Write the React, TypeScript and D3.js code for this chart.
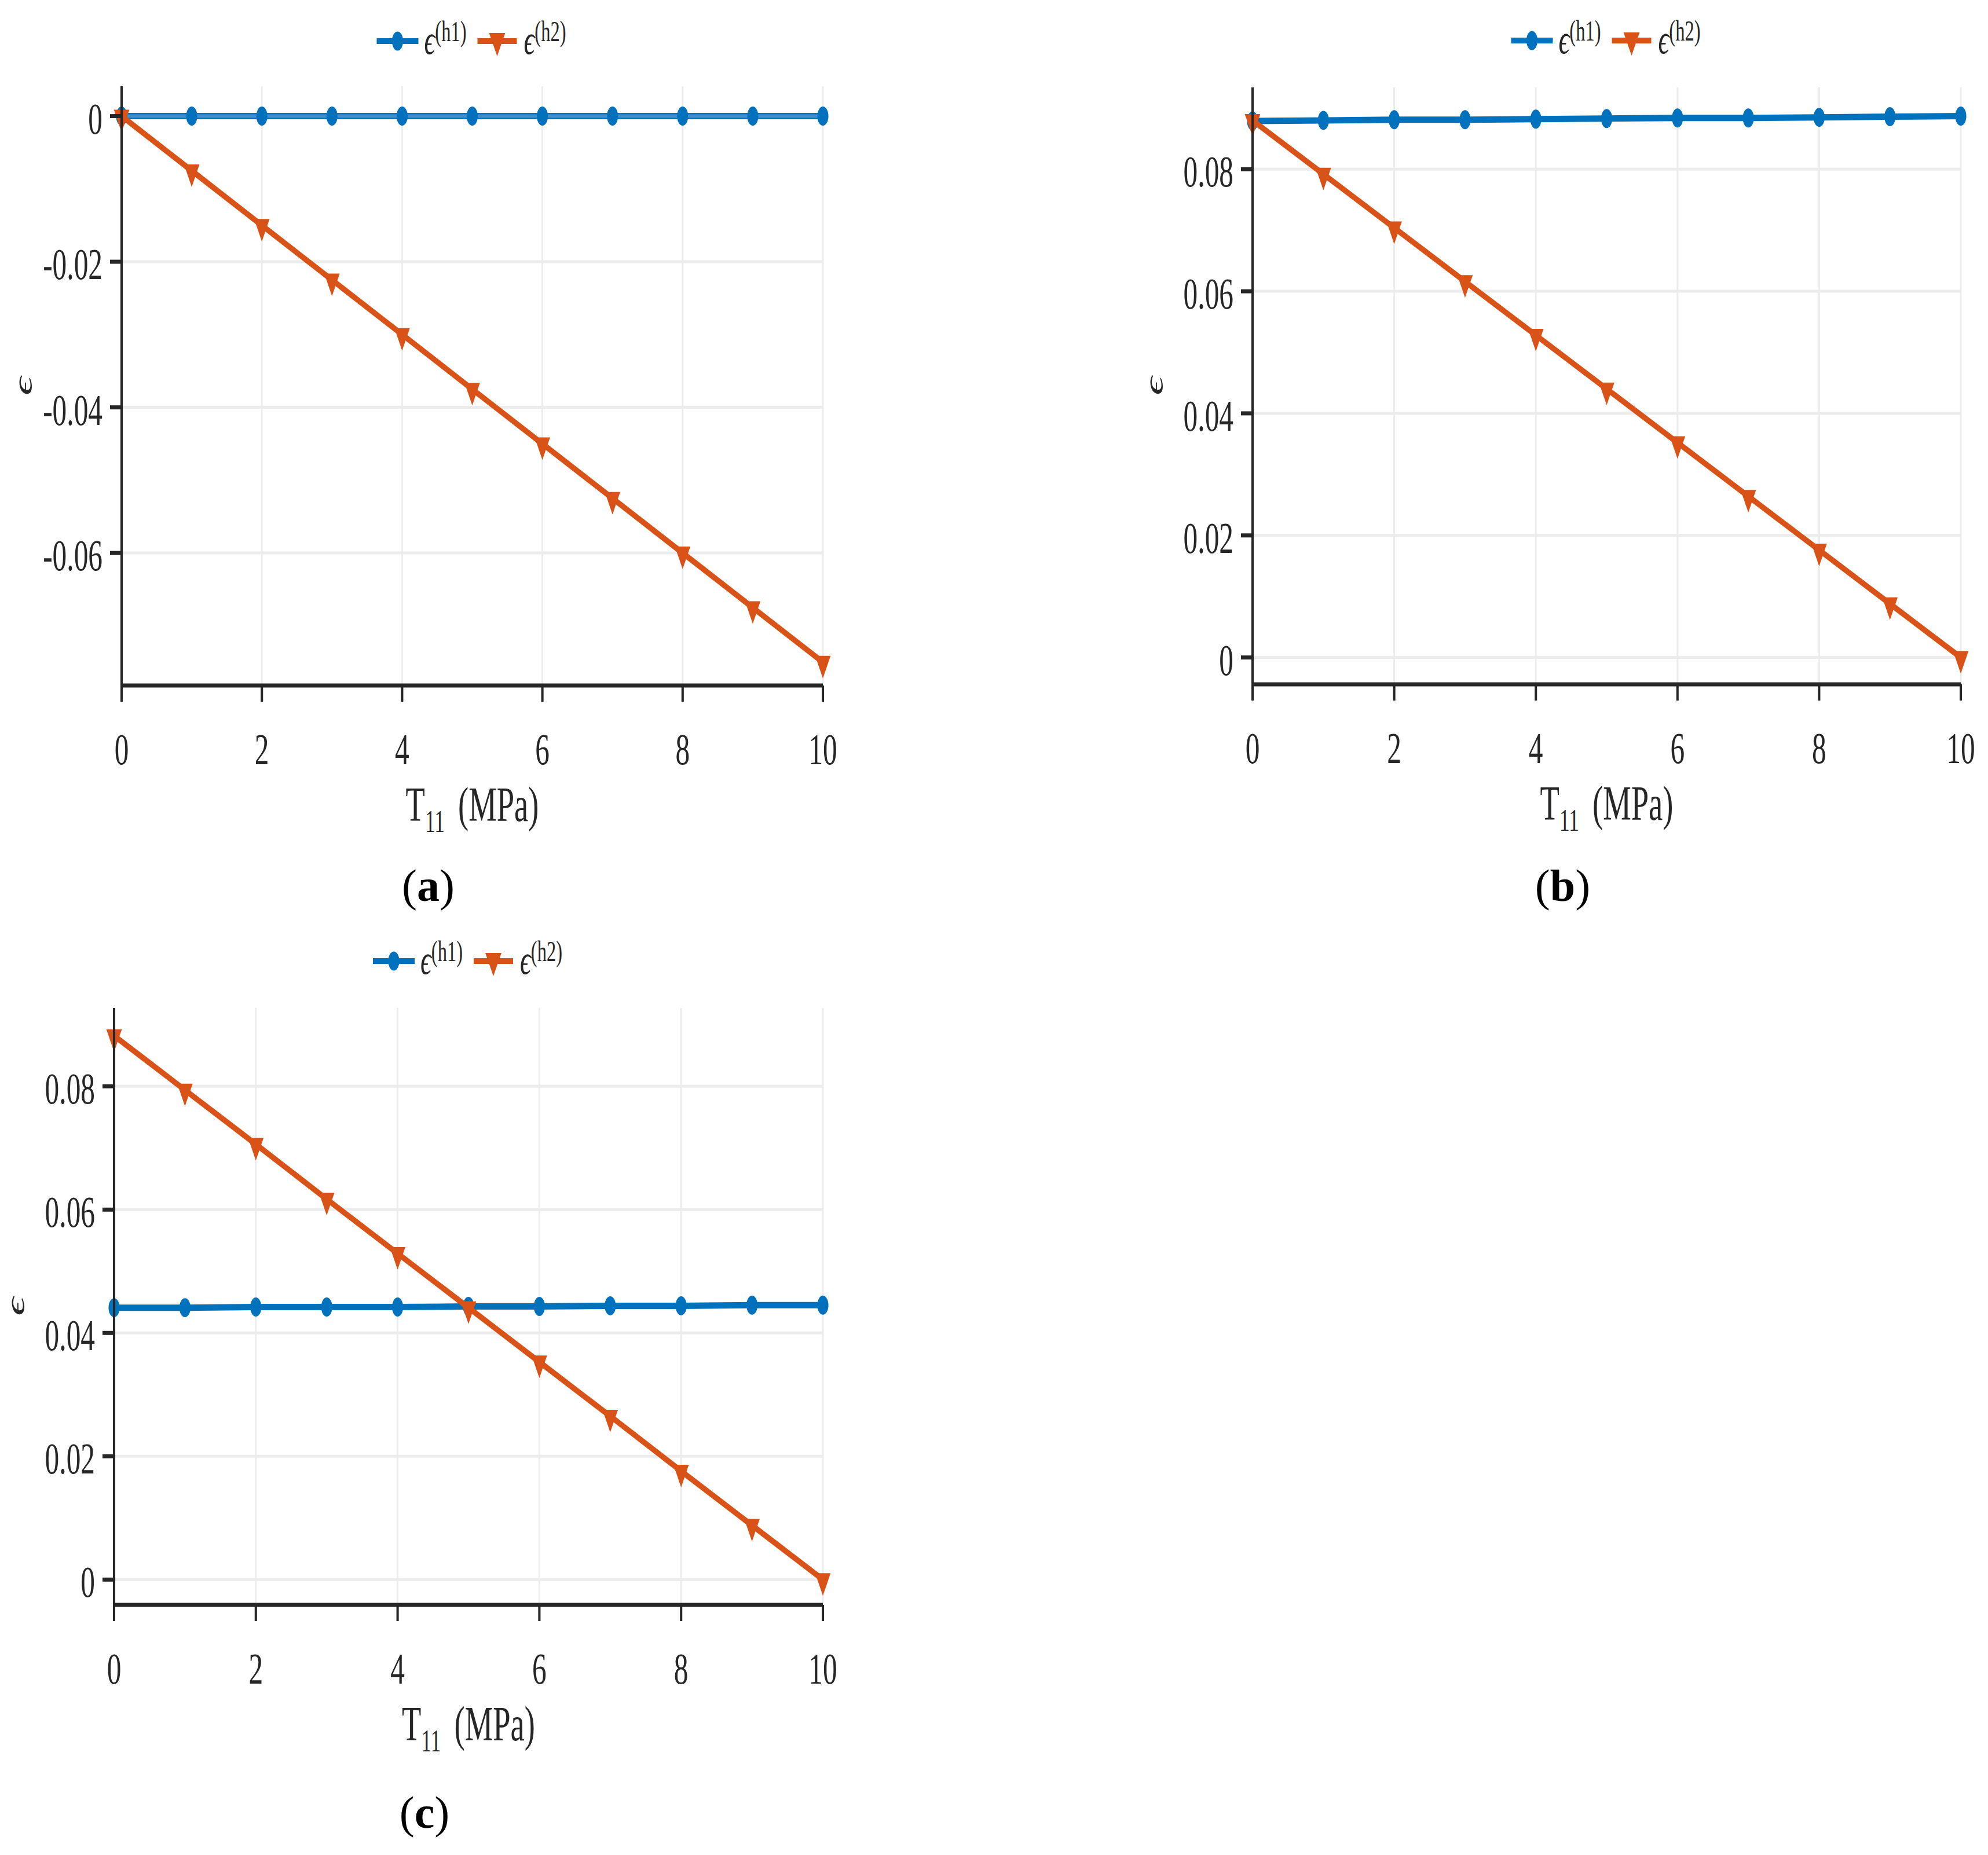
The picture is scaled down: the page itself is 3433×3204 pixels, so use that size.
import React from 'react';
import * as d3 from 'd3';

// horizontal squeeze of the plotted panels (the source figure was stretched tall)
const S = 0.58;
// the glyphs of the source are a touch wider than Liberation Serif
const K = 1.12;

const T11 = [0, 1, 2, 3, 4, 5, 6, 7, 8, 9, 10];
const xTicks = [0, 2, 4, 6, 8, 10];

const aH1 = [0, 0, 0, 0, 0, 0, 0, 0, 0, 0, 0];
const aH2 = [0, -0.0075, -0.015, -0.0225, -0.03, -0.0375, -0.045, -0.0525, -0.06, -0.0675, -0.075];
const aTicks = [0, -0.02, -0.04, -0.06];

const bH1 = [0.0879, 0.088, 0.0881, 0.0881, 0.0882, 0.0883, 0.0884, 0.0884, 0.0885, 0.0886, 0.0887];
const bH2 = [0.088, 0.0792, 0.0704, 0.0616, 0.0528, 0.044, 0.0352, 0.0264, 0.0176, 0.0088, 0];
const bTicks = [0, 0.02, 0.04, 0.06, 0.08];

const cH1 = [0.0441, 0.0441, 0.0442, 0.0442, 0.0442, 0.0443, 0.0443, 0.0444, 0.0444, 0.0445, 0.0445];
const cH2 = [0.0882, 0.0794, 0.0706, 0.0617, 0.0529, 0.0441, 0.0353, 0.0265, 0.0176, 0.0088, 0];
const cTicks = [0, 0.02, 0.04, 0.06, 0.08];

const BLUE = '#0072BD';
const ORANGE = '#D95319';
const AX = '#262626';
const GRID = '#ececec';
const FONT = 'Liberation Serif, Times New Roman, Times, serif';

const u = (v: number) => v / S;
const fmt = (t: number) => (t === 0 ? '0' : String(+t.toFixed(2)));

function tri(cx: number, cy: number, w: number, up: number, down: number) {
  return `M${cx - w},${cy - up}L${cx + w},${cy - up}L${cx},${cy + down}Z`;
}

function Txt(props: any) {
  const { x, y, children, ...rest } = props;
  return (
    <g transform={`translate(${x},${y}) scale(${K},1)`}>
      <text x={0} y={0} fontFamily={FONT} fill={AX} {...rest}>
        {children}
      </text>
    </g>
  );
}

function Panel(props: any) {
  const { x0, x1, top, axisY, yDomain, yTicks, h1, h2, caption, legendY, innerBlue } = props;
  const x = d3.scaleLinear().domain([0, 10]).range([u(x0), u(x1)]);
  const y = d3.scaleLinear().domain(yDomain).range([axisY, top]);
  const line = d3.line<number>().x((d, i) => x(T11[i])).y(d => y(d));
  const mid = (x0 + x1) / 2;
  const ls = mid - 165;

  return (
    <g>
      <g transform={`scale(${S},1)`}>
        {/* grid */}
        {xTicks.map(t => (
          <line key={'gx' + t} x1={x(t)} x2={x(t)} y1={top} y2={axisY} stroke={GRID} strokeWidth={5} />
        ))}
        {yTicks.map((t: number) => (
          <line key={'gy' + t} x1={u(x0)} x2={u(x1)} y1={y(t)} y2={y(t)} stroke={GRID} strokeWidth={5} />
        ))}

        {/* series */}
        <path d={line(h1) || ''} fill="none" stroke={BLUE} strokeWidth={11} />
        {innerBlue && <path d={line(h1) || ''} fill="none" stroke="#3f8fd0" strokeWidth={6} />}
        {h1.map((v: number, i: number) => (
          <circle key={'m1' + i} cx={x(T11[i])} cy={y(v)} r={16.5} fill={BLUE} />
        ))}
        <path d={line(h2) || ''} fill="none" stroke={ORANGE} strokeWidth={11} />
        {h2.map((v: number, i: number) => (
          <path key={'m2' + i} d={tri(x(T11[i]), y(v), 23, 11, 28)} fill={ORANGE} />
        ))}

        {/* axes */}
        <line x1={u(x0)} x2={u(x0)} y1={top} y2={axisY} stroke={AX} strokeWidth={7} />
        <line x1={u(x0)} x2={u(x1)} y1={axisY} y2={axisY} stroke={AX} strokeWidth={7} />
        {xTicks.map(t => (
          <g key={'xt' + t}>
            <line x1={x(t)} x2={x(t)} y1={axisY} y2={axisY + 28} stroke={AX} strokeWidth={7} />
            <Txt x={x(t)} y={axisY + 136} textAnchor="middle" fontSize={76}>
              {fmt(t)}
            </Txt>
          </g>
        ))}
        {yTicks.map((t: number) => (
          <g key={'yt' + t}>
            <line x1={u(x0 - 20)} x2={u(x0)} y1={y(t)} y2={y(t)} stroke={AX} strokeWidth={7} />
            <Txt x={u(x0 - 33)} y={y(t) + 30} textAnchor="end" fontSize={76}>
              {fmt(t)}
            </Txt>
          </g>
        ))}

        {/* axis labels */}
        <Txt x={u(mid)} y={axisY + 234} textAnchor="middle" fontSize={84}>
          T
          <tspan fontSize={54} dy={19}>11</tspan>
          <tspan dx={36} dy={-19}>(MPa)</tspan>
        </Txt>
        <text
          x={u(x0 - 155)}
          y={(top + axisY) / 2}
          transform={`rotate(-90, ${u(x0 - 155)}, ${(top + axisY) / 2})`}
          textAnchor="middle"
          fontSize={80}
          fontStyle="italic"
          fontFamily={FONT}
          fill={AX}
        >
          ϵ
        </text>

        {/* legend */}
        <line x1={u(ls)} x2={u(ls + 72)} y1={legendY} y2={legendY} stroke={BLUE} strokeWidth={10} />
        <circle cx={u(ls + 36)} cy={legendY} r={16.5} fill={BLUE} />
        <Txt x={u(ls + 82)} y={legendY + 22} fontSize={72}>
          <tspan fontStyle="italic">ϵ</tspan>
          <tspan fontSize={50} dy={-22}>(h1)</tspan>
        </Txt>
        <line x1={u(ls + 174)} x2={u(ls + 242)} y1={legendY} y2={legendY} stroke={ORANGE} strokeWidth={10} />
        <path d={tri(u(ls + 208), legendY, 24, 14, 26)} fill={ORANGE} />
        <Txt x={u(ls + 254)} y={legendY + 22} fontSize={72}>
          <tspan fontStyle="italic">ϵ</tspan>
          <tspan fontSize={50} dy={-22}>(h2)</tspan>
        </Txt>
      </g>

      {/* caption, not squeezed */}
      <text x={mid - 76} y={caption.y} textAnchor="middle" fontSize={78} fontFamily={FONT} fill="#000">
        (<tspan fontWeight="bold">{caption.t}</tspan>)
      </text>
    </g>
  );
}

export default function App() {
  return (
    <svg
      width={3433}
      height={3204}
      style={{ position: 'absolute', left: 0, top: 0, background: '#fff' }}
    >
      <rect width={3433} height={3204} fill="#fff" />
      <Panel
        x0={210} x1={1421} top={149} axisY={1184}
        yDomain={[-0.0782, 0.0041]} yTicks={aTicks}
        h1={aH1} h2={aH2} legendY={71} innerBlue
        caption={{ t: 'a', y: 1556 }}
      />
      <Panel
        x0={2163} x1={3386} top={151} axisY={1182}
        yDomain={[-0.0044, 0.0934]} yTicks={bTicks}
        h1={bH1} h2={bH2} legendY={70}
        caption={{ t: 'b', y: 1556 }}
      />
      <Panel
        x0={197} x1={1421} top={1741} axisY={2772}
        yDomain={[-0.0041, 0.0927]} yTicks={cTicks}
        h1={cH1} h2={cH2} legendY={1660}
        caption={{ t: 'c', y: 3157 }}
      />
    </svg>
  );
}
